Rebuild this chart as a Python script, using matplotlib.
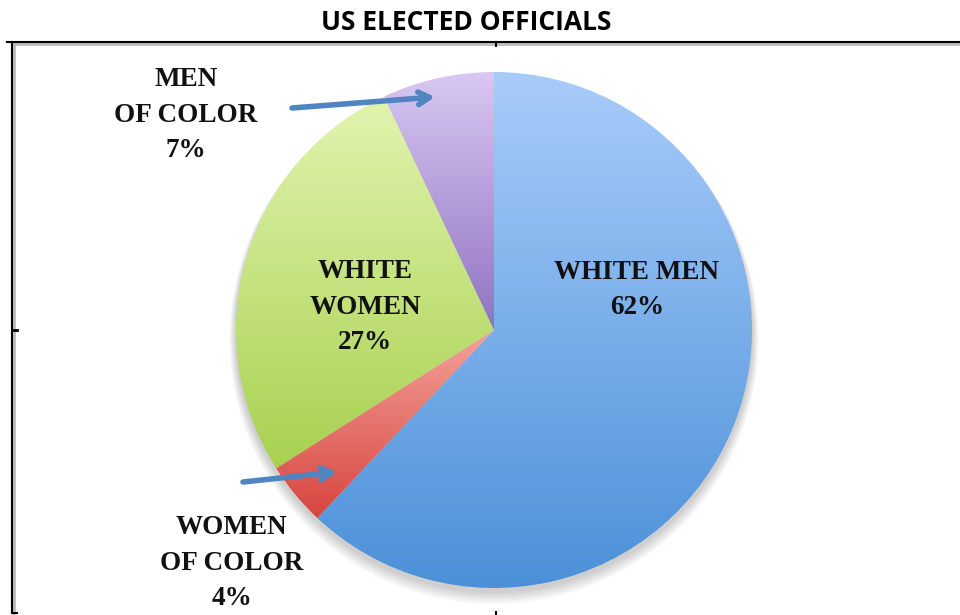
import numpy as np
import matplotlib.pyplot as plt
from matplotlib.colors import to_rgb
from matplotlib.patches import Circle

# data
categories = ['WHITE MEN', 'WOMEN\nOF COLOR', 'WHITE\nWOMEN', 'MEN\nOF COLOR']
shares = [62, 4, 27, 7]
top_colors = ['#a8ccfa', '#f4a39b', '#e2f4b0', '#d8c8f2']
bottom_colors = ['#4b90d8', '#d6453e', '#a8d150', '#9072c0']

serif = ['Liberation Serif', 'DejaVu Serif']
sans = ['Liberation Sans Narrow', 'Open Sans', 'DejaVu Sans']

fig = plt.figure(figsize=(9.6, 6.15), dpi=100)
ax = fig.add_axes([0, 0, 1, 1])

cx, cy, r = 494, 285, 258

# soft shadow under the pie
for k in range(8):
    ax.add_patch(Circle((cx, cy - 4 - k * 0.8), r + 1 + k * 0.8, color='#000000',
                        alpha=0.025, lw=0, zorder=1))

wedges, _ = ax.pie(shares, startangle=90, counterclock=False, center=(cx, cy),
                   radius=r, colors=['none'] * len(shares),
                   wedgeprops=dict(linewidth=0), frame=True)
ax.set_xlim(0, 960)
ax.set_ylim(0, 615)
ax.set_aspect('equal')
ax.axis('off')

# gradient fill per slice (top light -> bottom dark)
for w, c1, c2 in zip(wedges, top_colors, bottom_colors):
    verts = w.get_path().vertices
    x0, x1 = verts[:, 0].min(), verts[:, 0].max()
    y0, y1 = verts[:, 1].min(), verts[:, 1].max()
    t = np.linspace(0, 1, 256)[:, None]
    grad = (1 - t) * np.array(to_rgb(c1)) + t * np.array(to_rgb(c2))
    grad = np.repeat(grad[:, None, :], 2, axis=1)
    im = ax.imshow(grad, extent=(x0, x1, y0, y1), origin='upper', aspect='auto',
                   zorder=2, interpolation='bilinear')
    im.set_clip_path(w)

# labels
txt = dict(fontsize=19.5, fontweight='bold', family=serif, color='#111111',
           ha='center', va='center', multialignment='center', linespacing=1.55,
           zorder=5)
lbl = [c + '\n%d%%' % s for c, s in zip(categories, shares)]
ax.text(637, 325, lbl[0], **txt)
ax.text(365, 308, lbl[2], **txt)
ax.text(186, 500, lbl[3], **txt)
ax.text(232, 52, lbl[1], **txt)

# arrows
arr = dict(arrowstyle='->,head_length=0.8,head_width=0.45', color='#4f86c2', lw=4,
           shrinkA=0, shrinkB=0)
ax.annotate('', xy=(435, 518), xytext=(292, 507), arrowprops=arr, zorder=6)
ax.annotate('', xy=(337, 143), xytext=(243, 133), arrowprops=arr, zorder=6)

# frame
ax.plot([14, 14], [2, 571], color='#bbbbbb', lw=2, zorder=3)
ax.plot([14, 960], [571, 571], color='#bbbbbb', lw=2, zorder=3)
ax.plot([12, 12], [2, 573], color='black', lw=1.5, zorder=4)
ax.plot([7, 960], [573, 573], color='black', lw=1.5, zorder=4)
ax.plot([496, 496], [573, 569], color='black', lw=1.5, zorder=4)
ax.plot([12, 17], [285, 285], color='black', lw=2, zorder=4)
ax.plot([496, 496], [0, 3], color='black', lw=1.5, zorder=4)
ax.plot([12, 17], [2, 2], color='black', lw=1.5, zorder=4)

ax.text(466, 593, 'US ELECTED OFFICIALS', fontsize=19, fontweight='bold',
        family=sans, color='black', ha='center', va='center')

fig.savefig('out.png', dpi=100)
